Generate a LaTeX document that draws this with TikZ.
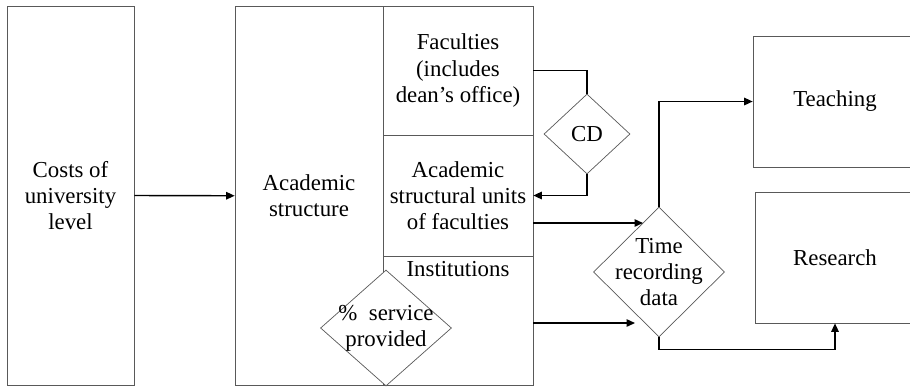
\documentclass[tikz,border=0pt]{standalone}
\usepackage{fontspec}
\setmainfont{Liberation Serif}
\usetikzlibrary{arrows.meta,positioning,shapes.geometric}

\begin{document}
\begin{tikzpicture}[
      x=0.02cm, y=-0.02cm,
      font=\fontsize{13}{14.8}\selectfont,
      % Reusable styles
      box/.style={
        draw=black!65,
        fill=white,
        align=center,
        inner sep=2pt
      },
      choice/.style={
        draw=black!65,
        fill=white,
        diamond,
        inner sep=0pt
      },
      arrow/.style={-{Triangle[length=1.7mm,width=1.5mm]}, line width=0.8pt, draw=black}
    ]
    \useasboundingbox (0,0) rectangle (910,387);

    % Boxes of the cost model
    \node[box, minimum width=2.54cm, minimum height=7.58cm] (costs) at (70.5,195.5) {Costs of\\university\\level};
    \node[box, minimum width=2.96cm, minimum height=7.59cm] (acad) at (309,195.75) {Academic\\structure};
    \node[box, minimum width=3cm, minimum height=2.58cm] (fac) at (458,70.5) {Faculties\\(includes\\dean’s office)};
    \node[box, minimum width=3cm, minimum height=2.42cm] (units) at (458,195.5) {Academic\\structural units\\of faculties};
    \node[box, minimum width=3cm, minimum height=2.59cm,
          label={[anchor=north, inner sep=3pt]north:Institutions}] (inst) at (458,320.75) {};
    \node[box, minimum width=3.28cm, minimum height=2.62cm] (teach) at (835,101.5) {Teaching};
    \node[box, minimum width=3.2cm, minimum height=2.62cm] (res) at (835,257.5) {Research};

    % Decision diamonds (text as centred label, so the shape keeps its size)
    \node[choice, minimum width=1.72cm, minimum height=1.6cm,
          label={center:CD}] (cd) at (587,134) {};
    \node[choice, minimum width=2.62cm, minimum height=2.32cm,
          label={[align=center]center:\%\ \ service\\provided}] (serv) at (386,328) {};
    \node[choice, minimum width=2.62cm, minimum height=2.6cm,
          label={[align=center]center:Time\\recording\\data}] (time) at (659,272) {};

    % Free ends on the diamond edge
    \coordinate (tin1) at (643,223);
    \coordinate (tin2) at (635,323);

    % Connectors
    \draw[arrow] (costs.east) -- (acad.west);
    \draw[line width=0.8pt] (fac.east) -| (cd.north);
    \draw[arrow] (cd.south) |- (units.east);
    \draw[arrow] (units.east |- tin1) -- (tin1);
    \draw[arrow] (inst.east |- tin2) -- (tin2);
    \draw[arrow] (time.north) |- (teach.west);
    \draw[arrow] (time.south) -- ++(0,12) -| (res.south);
  \end{tikzpicture}
\end{document}
